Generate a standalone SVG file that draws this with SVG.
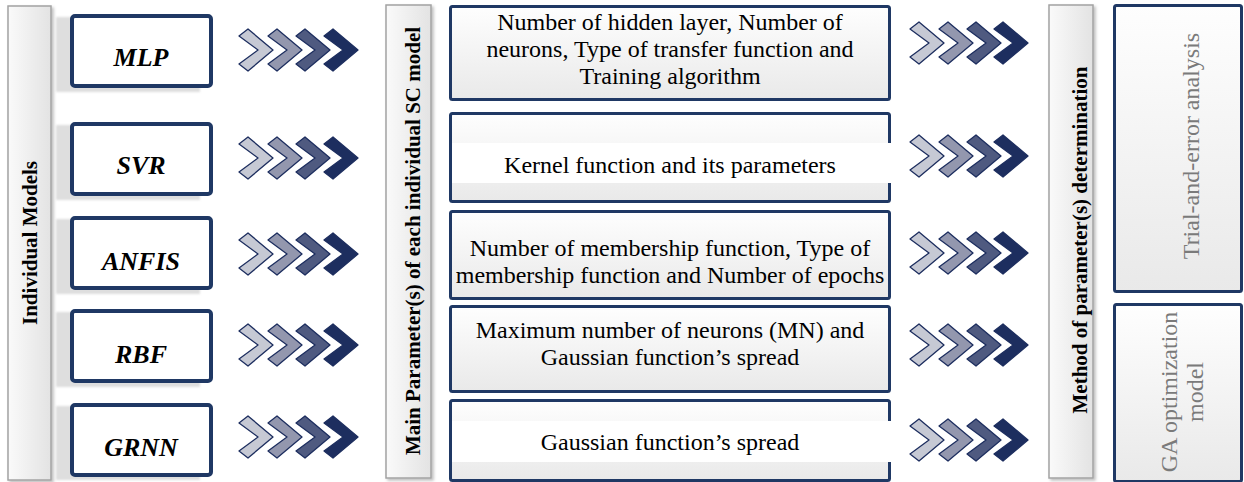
<svg xmlns="http://www.w3.org/2000/svg" width="1244" height="482" viewBox="0 0 1244 482">
<style>
.bar{fill:url(#barGrad);stroke:#a3a3a3;stroke-width:1.5;filter:url(#sh)}
.bartxt{font-family:"Liberation Serif","Times New Roman",serif;font-weight:bold;font-size:21px;fill:#000;text-anchor:middle}
.mbox{fill:#fff;stroke:#1f3864;stroke-width:4}
.mshadow{fill:#dedede;filter:url(#blur)}
.mtxt{font-family:"Liberation Serif","Times New Roman",serif;font-weight:bold;font-style:italic;font-size:26px;fill:#000;text-anchor:middle}
.pbox{fill:url(#boxGrad);stroke:#1f3864;stroke-width:3}
.ptxt{font-family:"Liberation Serif","Times New Roman",serif;font-size:24px;fill:#000;text-anchor:middle}
.rtxt{font-family:"Liberation Serif","Times New Roman",serif;font-size:24px;fill:#7a7a7a;text-anchor:middle}
.c1{fill:#c6c9d4}.c2{fill:#9397ae}.c3{fill:#4f5a80}.c4{fill:#1d2e5f}
.cv{stroke:#1d2e5f;stroke-width:1.3;stroke-linejoin:round}
</style>
<defs>
<linearGradient id="barGrad" x1="0" y1="0" x2="1" y2="0">
<stop offset="0" stop-color="#fafafa"/><stop offset="1" stop-color="#e3e3e3"/>
</linearGradient>
<linearGradient id="boxGrad" x1="0" y1="0" x2="0" y2="1">
<stop offset="0" stop-color="#fefefe"/><stop offset="1" stop-color="#e9e9e9"/>
</linearGradient>
<filter id="sh" x="-20%" y="-5%" width="150%" height="110%">
<feDropShadow dx="2" dy="2" stdDeviation="1.5" flood-color="#000" flood-opacity="0.25"/>
</filter>
<filter id="blur" x="-10%" y="-10%" width="120%" height="120%">
<feGaussianBlur stdDeviation="1.2"/>
</filter>
<polygon id="cv" points="0,-14 9,-21 34,0 9,21 0,14 19,0"/>
</defs>
<rect width="1244" height="482" fill="#fff"/>

<!-- vertical bars -->
<g id="bar-individual">
<rect class="bar" x="8" y="6" width="43" height="474"/>
<text class="bartxt" transform="translate(37,243) rotate(-90)">Individual Models</text>
</g>
<g id="bar-main-params">
<rect class="bar" x="386" y="5" width="45" height="473"/>
<text class="bartxt" transform="translate(420,241) rotate(-90)">Main Parameter(s) of each individual SC model</text>
</g>
<g id="bar-method">
<rect class="bar" x="1049" y="5" width="44" height="473"/>
<text class="bartxt" transform="translate(1087,240) rotate(-90)">Method of parameter(s) determination</text>
</g>

<!-- model boxes -->
<g id="node-mlp">
<rect class="mshadow" x="56" y="17" width="144" height="75"/>
<rect class="mbox" x="72" y="16" width="139" height="70" rx="3"/>
<text class="mtxt" x="141" y="66">MLP</text>
</g>
<g id="node-svr">
<rect class="mshadow" x="56" y="125" width="144" height="75"/>
<rect class="mbox" x="72" y="124" width="139" height="70" rx="3"/>
<text class="mtxt" x="141" y="174">SVR</text>
</g>
<g id="node-anfis">
<rect class="mshadow" x="56" y="219" width="144" height="75"/>
<rect class="mbox" x="72" y="218" width="139" height="70" rx="3"/>
<text class="mtxt" x="141" y="270">ANFIS</text>
</g>
<g id="node-rbf">
<rect class="mshadow" x="56" y="312" width="144" height="75"/>
<rect class="mbox" x="72" y="311" width="139" height="70" rx="3"/>
<text class="mtxt" x="141" y="363">RBF</text>
</g>
<g id="node-grnn">
<rect class="mshadow" x="56" y="406" width="144" height="74"/>
<rect class="mbox" x="72" y="405" width="139" height="70" rx="3"/>
<text class="mtxt" x="141" y="456">GRNN</text>
</g>

<!-- parameter boxes -->
<g id="param-mlp">
<rect class="pbox" x="450.5" y="6.5" width="439" height="93" rx="2"/>
<text class="ptxt" x="670" y="30">Number of hidden layer, Number of</text>
<text class="ptxt" x="670" y="57">neurons, Type of transfer function and</text>
<text class="ptxt" x="670" y="84">Training algorithm</text>
</g>
<g id="param-svr">
<rect class="pbox" x="450.5" y="113.5" width="439" height="88" rx="2"/>
<rect x="452" y="143" width="440" height="40" fill="#fff"/>
<text class="ptxt" x="670" y="173">Kernel function and its parameters</text>
</g>
<g id="param-anfis">
<rect class="pbox" x="450.5" y="211.5" width="439" height="87" rx="2"/>
<text class="ptxt" x="670" y="256">Number of membership function, Type of</text>
<text class="ptxt" x="670" y="283">membership function and Number of epochs</text>
</g>
<g id="param-rbf">
<rect class="pbox" x="450.5" y="306.5" width="439" height="85" rx="2"/>
<text class="ptxt" x="670" y="338">Maximum number of neurons (MN) and</text>
<text class="ptxt" x="670" y="365">Gaussian function’s spread</text>
</g>
<g id="param-grnn">
<rect class="pbox" x="450.5" y="400.5" width="439" height="80" rx="2"/>
<rect x="452" y="421" width="440" height="41" fill="#fff"/>
<text class="ptxt" x="670" y="450">Gaussian function’s spread</text>
</g>

<!-- method boxes -->
<g id="method-trial">
<rect class="pbox" x="1114.5" y="5.5" width="127" height="286" rx="2"/>
<text class="rtxt" transform="translate(1199,146) rotate(-90)">Trial-and-error analysis</text>
</g>
<g id="method-ga">
<rect class="pbox" x="1114.5" y="304.5" width="127" height="177" rx="2"/>
<text class="rtxt" transform="translate(1177,392) rotate(-90)">GA optimization</text>
<text class="rtxt" transform="translate(1203,392) rotate(-90)">model</text>
</g>

<!-- connectors: chevron arrows -->
<g id="connectors">
<g transform="translate(239,50)"><use href="#cv" class="cv c1"/><use href="#cv" x="29" class="cv c2"/><use href="#cv" x="57" class="cv c3"/><use href="#cv" x="85" class="cv c4"/></g>
<g transform="translate(239,158)"><use href="#cv" class="cv c1"/><use href="#cv" x="29" class="cv c2"/><use href="#cv" x="57" class="cv c3"/><use href="#cv" x="85" class="cv c4"/></g>
<g transform="translate(239,254)"><use href="#cv" class="cv c1"/><use href="#cv" x="29" class="cv c2"/><use href="#cv" x="57" class="cv c3"/><use href="#cv" x="85" class="cv c4"/></g>
<g transform="translate(239,345)"><use href="#cv" class="cv c1"/><use href="#cv" x="29" class="cv c2"/><use href="#cv" x="57" class="cv c3"/><use href="#cv" x="85" class="cv c4"/></g>
<g transform="translate(239,437)"><use href="#cv" class="cv c1"/><use href="#cv" x="29" class="cv c2"/><use href="#cv" x="57" class="cv c3"/><use href="#cv" x="85" class="cv c4"/></g>
<g transform="translate(910,43)"><use href="#cv" class="cv c1"/><use href="#cv" x="29" class="cv c2"/><use href="#cv" x="57" class="cv c3"/><use href="#cv" x="84" class="cv c4"/></g>
<g transform="translate(910,156)"><use href="#cv" class="cv c1"/><use href="#cv" x="29" class="cv c2"/><use href="#cv" x="57" class="cv c3"/><use href="#cv" x="84" class="cv c4"/></g>
<g transform="translate(910,253)"><use href="#cv" class="cv c1"/><use href="#cv" x="29" class="cv c2"/><use href="#cv" x="57" class="cv c3"/><use href="#cv" x="84" class="cv c4"/></g>
<g transform="translate(910,345)"><use href="#cv" class="cv c1"/><use href="#cv" x="29" class="cv c2"/><use href="#cv" x="57" class="cv c3"/><use href="#cv" x="84" class="cv c4"/></g>
<g transform="translate(910,440)"><use href="#cv" class="cv c1"/><use href="#cv" x="29" class="cv c2"/><use href="#cv" x="57" class="cv c3"/><use href="#cv" x="84" class="cv c4"/></g>
</g>
</svg>
